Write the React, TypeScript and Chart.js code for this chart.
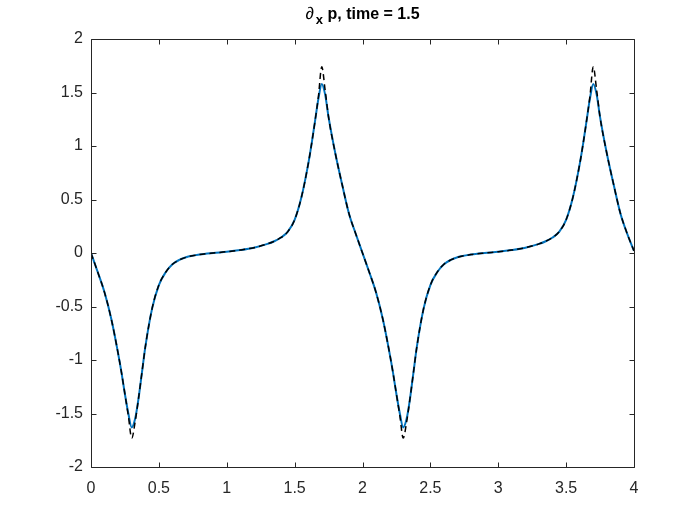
import React, { useEffect, useRef } from "react";
import { Chart, registerables } from "chart.js";

Chart.register(...registerables);

const xValues = [
  0, 0.05, 0.1, 0.15, 0.2, 0.225, 0.25, 0.275, 0.3, 0.325, 0.35, 0.375, 0.4,
  0.45, 0.5, 0.55, 0.6, 0.65, 0.7, 0.8, 0.9, 1.0, 1.1, 1.2, 1.3, 1.35, 1.4,
  1.45, 1.5, 1.55, 1.6, 1.625, 1.65, 1.675, 1.7, 1.725, 1.75, 1.8, 1.85, 1.9,
  1.95, 2.0,
  2.05, 2.1, 2.15, 2.2, 2.225, 2.25, 2.275, 2.3, 2.325, 2.35, 2.375, 2.4,
  2.45, 2.5, 2.55, 2.6, 2.65, 2.7, 2.8, 2.9, 3.0, 3.1, 3.2, 3.3, 3.35, 3.4,
  3.45, 3.5, 3.55, 3.6, 3.625, 3.65, 3.675, 3.7, 3.725, 3.75, 3.8, 3.85, 3.9,
  3.95, 4.0,
];

const numericValues = [
  0, -0.18, -0.37, -0.62, -0.94, -1.12, -1.32, -1.5, -1.63, -1.55, -1.36, -1.12, -0.88,
  -0.52, -0.3, -0.18, -0.105, -0.065, -0.04, -0.015, 0.0, 0.012, 0.028, 0.05, 0.085, 0.11, 0.145,
  0.2, 0.31, 0.52, 0.83, 1.02, 1.23, 1.44, 1.58, 1.48, 1.27, 0.93, 0.64, 0.37,
  0.18, 0,
  -0.18, -0.37, -0.62, -0.94, -1.12, -1.32, -1.5, -1.63, -1.55, -1.36, -1.12, -0.88,
  -0.52, -0.3, -0.18, -0.105, -0.065, -0.04, -0.015, 0.0, 0.012, 0.028, 0.05, 0.085, 0.11, 0.145,
  0.2, 0.31, 0.52, 0.83, 1.02, 1.23, 1.44, 1.58, 1.48, 1.27, 0.93, 0.64, 0.37,
  0.18, 0.02,
];

const exactValues = [
  0, -0.18, -0.37, -0.62, -0.94, -1.12, -1.32, -1.52, -1.73, -1.58, -1.36, -1.12, -0.88,
  -0.52, -0.3, -0.18, -0.105, -0.065, -0.04, -0.015, 0.0, 0.012, 0.028, 0.05, 0.085, 0.11, 0.145,
  0.2, 0.31, 0.52, 0.83, 1.02, 1.23, 1.46, 1.74, 1.52, 1.27, 0.93, 0.64, 0.37,
  0.18, 0,
  -0.18, -0.37, -0.62, -0.94, -1.12, -1.32, -1.52, -1.73, -1.58, -1.36, -1.12, -0.88,
  -0.52, -0.3, -0.18, -0.105, -0.065, -0.04, -0.015, 0.0, 0.012, 0.028, 0.05, 0.085, 0.11, 0.145,
  0.2, 0.31, 0.52, 0.83, 1.02, 1.23, 1.46, 1.74, 1.52, 1.27, 0.93, 0.64, 0.37,
  0.18, 0.02,
];

const xTicks = [0, 0.5, 1, 1.5, 2, 2.5, 3, 3.5, 4];
const yTicks = [-2, -1.5, -1, -0.5, 0, 0.5, 1, 1.5, 2];

const FONT = "'Liberation Sans', Arial, Helvetica, sans-serif";
const AXIS_COLOR = "#262626";

const boxPlugin = {
  id: "matlabBox",
  afterDraw(chart: any) {
    const { ctx, chartArea, scales } = chart;
    const { left, right, top, bottom } = chartArea;
    ctx.save();
    ctx.strokeStyle = AXIS_COLOR;
    ctx.lineWidth = 1;
    ctx.beginPath();
    const L = Math.round(left) + 0.5;
    const R = Math.round(right) + 0.5;
    const T = Math.round(top) + 0.5;
    const B = Math.round(bottom) + 0.5;
    ctx.rect(L, T, R - L, B - T);
    const tl = 5;
    xTicks.forEach((v) => {
      const px = Math.round(scales.x.getPixelForValue(v)) + 0.5;
      ctx.moveTo(px, B);
      ctx.lineTo(px, B - tl);
      ctx.moveTo(px, T);
      ctx.lineTo(px, T + tl);
    });
    yTicks.forEach((v) => {
      const py = Math.round(scales.y.getPixelForValue(v)) + 0.5;
      ctx.moveTo(L, py);
      ctx.lineTo(L + tl, py);
      ctx.moveTo(R, py);
      ctx.lineTo(R - tl, py);
    });
    ctx.stroke();

    // Title: ∂_x p, time = 1.5
    const cx = (left + right) / 2;
    const baseY = 19;
    const mainFont = `bold 16px ${FONT}`;
    const subFont = `bold 13px ${FONT}`;
    const part1 = "\u2202";
    const part2 = "x";
    const part3 = " p, time = 1.5";
    ctx.font = `italic 17px ${FONT}`;
    const w1 = ctx.measureText(part1).width;
    ctx.font = mainFont;
    const w3 = ctx.measureText(part3).width;
    ctx.font = subFont;
    const w2 = ctx.measureText(part2).width;
    const total = w1 + 2 + w2 + w3;
    let x0 = cx - total / 2;
    ctx.fillStyle = "#000000";
    ctx.textBaseline = "alphabetic";
    ctx.textAlign = "left";
    ctx.font = `italic 17px ${FONT}`;
    ctx.fillText(part1, x0, baseY);
    x0 += w1 + 2;
    ctx.font = subFont;
    ctx.fillText(part2, x0, baseY + 5);
    x0 += w2;
    ctx.font = mainFont;
    ctx.fillText(part3, x0, baseY);
    ctx.restore();
  },
};

const fmt = (v: any) => String(Number(v));

export default function App() {
  const canvasRef = useRef<HTMLCanvasElement | null>(null);

  useEffect(() => {
    document.body.style.margin = "0";
    const canvas = canvasRef.current;
    if (!canvas) return;
    const numeric = xValues.map((x, i) => ({ x, y: numericValues[i] }));
    const exact = xValues.map((x, i) => ({ x, y: exactValues[i] }));
    const chart = new Chart(canvas, {
      type: "line",
      data: {
        datasets: [
          {
            label: "exact",
            data: exact,
            borderColor: "#000000",
            borderWidth: 1.5,
            borderDash: [6, 4],
            pointRadius: 0,
            fill: false,
            cubicInterpolationMode: "monotone",
          },
          {
            label: "numerical",
            data: numeric,
            borderColor: "#0072BD",
            borderWidth: 2,
            pointRadius: 0,
            fill: false,
            cubicInterpolationMode: "monotone",
          },
        ],
      },
      options: {
        animation: false,
        responsive: false,
        devicePixelRatio: 1,
        layout: { padding: { left: 0, right: 66, top: 39, bottom: 0 } },
        plugins: {
          legend: { display: false },
          title: { display: false },
          tooltip: { enabled: false },
        },
        scales: {
          x: {
            type: "linear",
            min: 0,
            max: 4,
            afterFit: (s: any) => {
              s.height = 58;
            },
            afterBuildTicks: (s: any) => {
              s.ticks = xTicks.map((v) => ({ value: v }));
            },
            grid: { display: false, drawTicks: false },
            border: { display: false },
            ticks: {
              autoSkip: false,
              maxRotation: 0,
              padding: 12,
              color: AXIS_COLOR,
              font: { family: FONT, size: 16 },
              callback: (v: any) => fmt(v),
            },
          },
          y: {
            type: "linear",
            min: -2,
            max: 2,
            afterFit: (s: any) => {
              s.width = 91;
            },
            afterBuildTicks: (s: any) => {
              s.ticks = yTicks.map((v) => ({ value: v }));
            },
            grid: { display: false, drawTicks: false },
            border: { display: false },
            ticks: {
              autoSkip: false,
              padding: 8,
              color: AXIS_COLOR,
              font: { family: FONT, size: 16 },
              callback: (v: any) => fmt(v),
            },
          },
        },
      },
      plugins: [boxPlugin],
    });
    return () => chart.destroy();
  }, []);

  return (
    <div style={{ position: "fixed", left: 0, top: 0, width: 700, height: 525, background: "#ffffff" }}>
      <canvas ref={canvasRef} width={700} height={525} style={{ width: 700, height: 525 }} />
    </div>
  );
}
